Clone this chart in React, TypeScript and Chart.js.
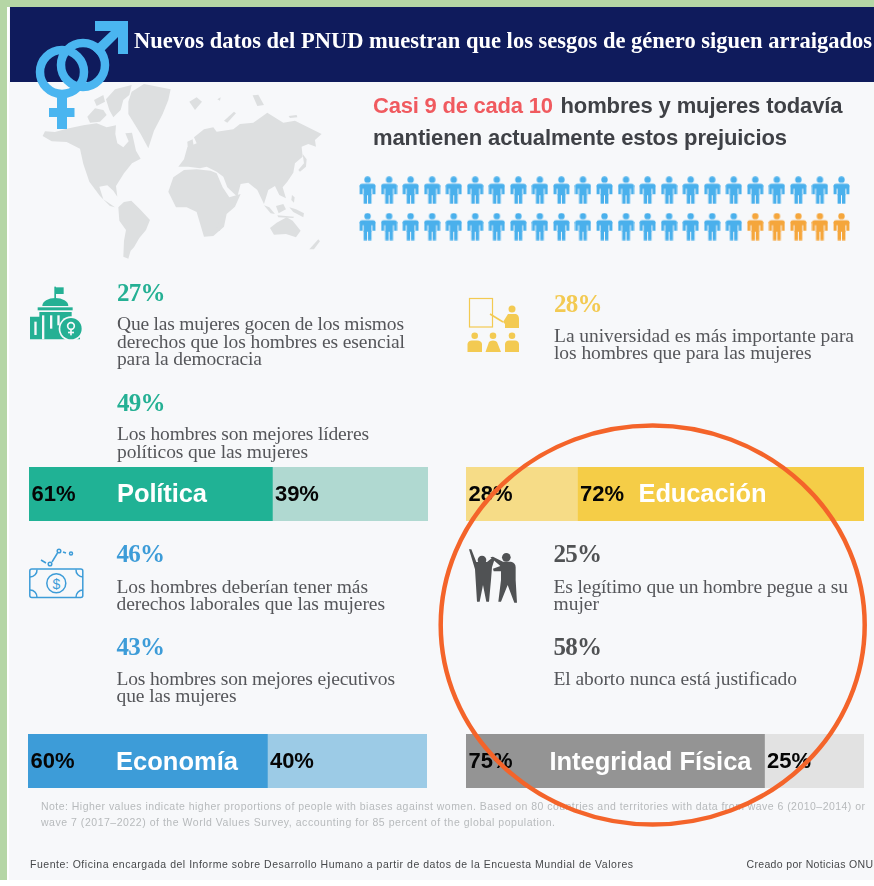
import React, { useEffect, useRef } from "react";
import { Chart, registerables } from "chart.js";

Chart.register(...registerables);

const barCategories = ["Política", "Educación", "Economía", "Integridad Física"];
const leftShares = [61, 28, 60, 75];
const rightShares = [39, 72, 40, 25];
const leftColors = ["#20b295", "#f6dc87", "#3d9cd8", "#949494"];
const rightColors = ["#b0d9d1", "#f5cd47", "#9ccbe6", "#e2e2e2"];

const peopleTopRow = { blue: 23, orange: 0 };
const peopleBottomRow = { blue: 18, orange: 5 };

const SANS = '"Liberation Sans", Arial, sans-serif';
const SERIF = '"Liberation Serif", serif';

function makePerson(color: string) {
  const c = document.createElement("canvas");
  c.width = 17;
  c.height = 28;
  const g = c.getContext("2d")!;
  g.fillStyle = color;
  g.beginPath();
  g.arc(8.5, 3.4, 3.2, 0, Math.PI * 2);
  g.fill();
  g.beginPath();
  g.roundRect(0.6, 7.4, 15.8, 5, 2.4);
  g.fill();
  g.fillRect(0.6, 9, 3, 9);
  g.fillRect(13.4, 9, 3, 9);
  g.fillRect(4.6, 8, 7.8, 11);
  g.fillRect(4.6, 18, 3.4, 9.6);
  g.fillRect(9, 18, 3.4, 9.6);
  return c;
}

const shareLabels = {
  id: "shareLabels",
  afterDatasetsDraw(chart: any) {
    const ctx = chart.ctx;
    ctx.save();
    ctx.font = `bold 22px ${SANS}`;
    ctx.fillStyle = "#050505";
    ctx.textBaseline = "alphabetic";
    chart.data.datasets.forEach((ds: any, i: number) => {
      const bar = chart.getDatasetMeta(i).data[0] as any;
      ctx.fillText(`${ds.data[0]}%`, bar.base + 2.5, 34);
    });
    ctx.restore();
  },
};

function ShareBar({ index, left, top, width }: { index: number; left: number; top: number; width: number }) {
  const ref = useRef<HTMLCanvasElement>(null);
  useEffect(() => {
    const chart = new Chart(ref.current!, {
      type: "bar",
      data: {
        labels: [barCategories[index]],
        datasets: [
          { data: [leftShares[index]], backgroundColor: leftColors[index], borderWidth: 0, barPercentage: 1, categoryPercentage: 1 },
          { data: [rightShares[index]], backgroundColor: rightColors[index], borderWidth: 0, barPercentage: 1, categoryPercentage: 1 },
        ],
      },
      options: {
        indexAxis: "y",
        responsive: false,
        maintainAspectRatio: false,
        animation: false,
        layout: { padding: 0, autoPadding: false },
        plugins: { legend: { display: false }, tooltip: { enabled: false } },
        scales: {
          x: { display: false, stacked: true, min: 0, max: 100 },
          y: { display: false, stacked: true },
        },
      },
      plugins: [shareLabels],
    } as any);
    return () => chart.destroy();
  }, [index]);
  return <canvas ref={ref} width={width} height={54} style={{ position: "absolute", left, top, width, height: 54, display: "block" }} />;
}

function People() {
  const ref = useRef<HTMLCanvasElement>(null);
  useEffect(() => {
    const blue: { x: number; y: number }[] = [];
    const orange: { x: number; y: number }[] = [];
    [peopleTopRow, peopleBottomRow].forEach((row, r) => {
      for (let k = 1; k <= row.blue + row.orange; k++) {
        (k <= row.blue ? blue : orange).push({ x: k, y: 2 - r });
      }
    });
    const chart = new Chart(ref.current!, {
      type: "scatter",
      data: {
        datasets: [
          { data: blue, pointStyle: makePerson("#4ab0ec"), pointRadius: 10, clip: false },
          { data: orange, pointStyle: makePerson("#f5a63c"), pointRadius: 10, clip: false },
        ],
      },
      options: {
        responsive: false,
        maintainAspectRatio: false,
        animation: false,
        layout: { padding: 0, autoPadding: false },
        plugins: { legend: { display: false }, tooltip: { enabled: false } },
        scales: {
          x: { display: false, min: 0, max: 24 },
          y: { display: false, min: 0.5, max: 2.5 },
        },
      },
    } as any);
    return () => chart.destroy();
  }, []);
  return <canvas ref={ref} width={517} height={73} style={{ position: "absolute", left: 346, top: 172, width: 517, height: 73, display: "block" }} />;
}

function T({ x, y, len, size, color, family = SERIF, weight = "normal", children, anchor }: any) {
  return (
    <text x={x} y={y} fontFamily={family} fontSize={size} fontWeight={weight} fill={color} textLength={len} lengthAdjust="spacing" textAnchor={anchor} xmlSpace="preserve">
      {children}
    </text>
  );
}

const GREEN = "#25b094";
const YELLOW = "#f3ca52";
const BLUE = "#3d9cd8";
const DARK = "#505254";
const BODY = "#55565a";
const PANEL = "#f7f8fa";

function Stat({ x, y, value, color }: any) {
  return <T x={x} y={y} len={48.5} size={25} color={color} weight="bold">{value}</T>;
}
// One paragraph: [baseline y, right edge, words] for each line
function Para({ x, lines }: { x: number; lines: [number, number, string][] }) {
  return (
    <text fontFamily={SERIF} fontSize={19.5} fill={BODY} xmlSpace="preserve">
      {lines.map(([y, end, words], i) => (
        <tspan key={i} x={x} y={y} textLength={end - x} lengthAdjust="spacing">{words}</tspan>
      ))}
    </text>
  );
}

const MAP_SHAPES = [
  "M128 408 L135 394 L165 396 L200 386 L250 376 L290 370 L320 382 L348 376 L346 402 L352 430 L370 442 L386 424 L376 400 L396 398 L408 452 L422 476 L396 490 L372 520 L348 558 L352 590 L340 572 L322 556 L298 560 L310 598 L345 622 L330 618 L300 588 L268 545 L250 492 L240 446 L200 426 L155 424 Z",
  "M262 350 L285 325 L310 330 L320 345 L300 365 L270 368 Z",
  "M318 298 L345 268 L395 255 L388 285 L370 300 L362 330 L340 352 L328 330 Z",
  "M282 300 L310 285 L315 305 L290 318 Z",
  "M385 305 L395 275 L432 252 L512 268 L505 300 L488 342 L462 392 L445 445 L422 402 L385 342 Z",
  "M355 622 L372 606 L394 602 L420 628 L450 660 L438 690 L418 714 L402 742 L392 752 L385 776 L370 770 L372 722 L378 690 L358 662 Z",
  "M505 575 L520 532 L552 510 L590 508 L632 512 L650 520 L668 562 L688 592 L722 582 L705 620 L680 642 L672 680 L640 708 L612 710 L600 670 L590 636 L560 622 L528 622 Z",
  "M535 500 L552 478 L562 442 L590 430 L582 412 L612 388 L640 382 L650 395 L700 388 L720 372 L760 368 L802 338 L850 368 L885 362 L965 402 L945 420 L948 440 L925 432 L905 440 L908 470 L885 490 L880 518 L862 545 L848 562 L858 595 L838 585 L825 558 L805 570 L792 612 L772 570 L745 548 L722 552 L712 590 L682 562 L670 530 L650 515 L620 500 L600 505 L565 500 Z",
  "M810 684 L830 668 L860 652 L878 662 L902 692 L888 712 L858 702 L822 704 Z",
  "M792 616 L808 622 L825 642 L812 640 Z",
  "M828 618 L850 612 L858 628 L836 640 Z",
  "M832 646 L882 650 L880 654 L835 652 Z",
  "M868 622 L888 628 L912 640 L910 652 L880 636 Z",
  "M876 585 L884 592 L882 608 L874 600 Z",
  "M908 462 L920 478 L918 500 L900 515 L895 510 L912 490 Z",
  "M568 305 L590 292 L606 305 L585 330 Z",
  "M758 286 L775 284 L792 315 L772 318 Z",
  "M652 298 L662 292 L660 302 Z",
  "M562 425 L578 418 L582 445 L564 452 Z",
  "M672 362 L702 335 L708 340 L682 368 Z",
  "M660 650 L668 648 L660 692 L648 694 Z",
  "M928 748 L955 718 L960 724 L942 748 Z",
  "M866 348 L890 345 L892 352 L870 354 Z",
];

export default function App() {
  return (
    <div style={{ position: "absolute", left: 0, top: 0, width: 874, height: 886, overflow: "hidden", background: "#ffffff" }}>
      <svg width={874} height={886} style={{ position: "absolute", left: 0, top: 0 }}>
        <rect x={0} y={0} width={874} height={7} fill="#b5d6a5" />
        <rect x={0} y={0} width={7} height={880} fill="#b5d6a5" />
        <rect x={9} y={7} width={865} height={873} fill={PANEL} />
        <g transform="scale(0.3333)" fill="#dddfe0">
          {MAP_SHAPES.map((d, i) => <path key={i} d={d} />)}
        </g>
        <rect x={10} y={7} width={864} height={75} fill="#0f1b5c" />
        <g fill="none" stroke="#4ab5f0" strokeWidth={8.5}>
          <circle cx={62} cy={72} r={22} />
          <circle cx={83} cy={65} r={22} />
        </g>
        <path d="M57 96 H67 V108 H74.500 V117 H67 V129 H57 V117 H49 V108 H57 Z" fill="#4ab5f0" />
        <path d="M95 21 H128 V54 H118 V37 L99 56 L92 49 L111 31 H95 Z" fill="#4ab5f0" />

        <g transform="translate(0 270) scale(0.3333)">
          <g fill={GREEN}>
            <rect x={163} y={50} width={5} height={36} />
            <rect x={168} y={52} width={23} height={20} />
            <path d="M127 108 A39 24 0 0 1 205 108 Z" />
            <rect x={113} y={112} width={105} height={9} />
            <path d="M90 140 H118 V126 H215 V150 H240 V208 H90 Z" />
          </g>
          <g fill={PANEL}>
            <rect x={103} y={155} width={7} height={40} />
            <rect x={126} y={136} width={7} height={72} />
            <rect x={150} y={136} width={7} height={40} />
            <rect x={172} y={136} width={7} height={30} />
            <circle cx={213} cy={176} r={37} />
          </g>
          <circle cx={213} cy={176} r={32} fill={GREEN} />
          <circle cx={213} cy={168} r={10} fill="none" stroke={PANEL} strokeWidth={5} />
          <rect x={210.500} y={178} width={5} height={18} fill={PANEL} />
          <rect x={204} y={185} width={18} height={5} fill={PANEL} />
        </g>

        <rect x={469.500} y={298.500} width={23} height={28.500} fill="none" stroke={YELLOW} strokeWidth={1.200} />
        <path d="M490 314 L503 322" stroke={YELLOW} strokeWidth={1.500} />
        <g fill={YELLOW}>
          <circle cx={512} cy={309} r={3.500} />
          <path d="M503 322 L508 314 H516 Q519 315 519 319 V328 H505 V324 Z" />
          <circle cx={474.700} cy={335.700} r={3.300} />
          <circle cx={493} cy={335.700} r={3.300} />
          <circle cx={512} cy={335.700} r={3.300} />
          <path d="M467.500 352 V344 Q468 340.500 472 340.500 H477 Q481.500 340.500 482 344 V352 Z" />
          <path d="M485.500 352 L489 342 Q490 340.500 493 340.500 Q496 340.500 497 342 L501 352 Z" />
          <path d="M505 352 V344 Q505.500 340.500 509 340.500 H515 Q518.500 340.500 519 344 V352 Z" />
        </g>

        <g fill="none" stroke={BLUE} strokeWidth={1.500}>
          <rect x={29.800} y={569} width={53} height={28.500} rx={2} />
          <path d="M30 577 A7 7 0 0 0 37 569.500 M83 577 A7 7 0 0 1 76 569.500 M30 590 A7 7 0 0 1 37 597.500 M83 590 A7 7 0 0 0 76 597.500" />
          <circle cx={56.300} cy={583.300} r={9.500} />
          <path d="M41 560 L46 563 M52 562 L57.500 553" />
          <circle cx={50} cy={564} r={1.800} />
          <circle cx={59} cy={551} r={1.800} />
          <path d="M63 552 L66 553" />
          <circle cx={71} cy={553.500} r={1.500} />
        </g>
        <text x={56.300} y={588.500} textAnchor="middle" fontFamily={SANS} fontSize={14} fill={BLUE}>$</text>

        <g transform="translate(437 530) scale(0.3333)" fill={DARK}>
          <circle cx={135} cy={90} r={13} />
          <circle cx={208} cy={82} r={13} />
          <path d="M96 58 L103 58 L118 96 L150 96 L165 84 L172 90 L165 112 L162 150 L156 215 L148 215 L138 165 L128 215 L120 215 L116 150 L114 118 Z" />
          <path d="M160 82 L168 80 L198 95 L222 95 Q236 98 236 112 V150 L240 218 L232 218 L212 165 L192 215 L184 215 L192 150 V124 L170 124 L168 116 L190 108 Z" />
        </g>
      </svg>

      <People />
      <ShareBar index={0} left={29} top={467} width={399} />
      <ShareBar index={1} left={466} top={467} width={398} />
      <ShareBar index={2} left={28} top={734} width={399} />
      <ShareBar index={3} left={466} top={734} width={398} />

      <svg width={874} height={886} style={{ position: "absolute", left: 0, top: 0 }}>
        <T x={134} y={48} len={738} size={22.500} color="#ffffff" weight="bold">Nuevos datos del PNUD muestran que los sesgos de género siguen arraigados</T>

        <T x={373} y={112.500} len={180} size={22} color="#f05a5f" family={SANS} weight="bold">Casi 9 de cada 10</T>
        <T x={560.500} y={112.500} len={282} size={22} color="#3f4146" family={SANS} weight="bold">hombres y mujeres todavía</T>
        <T x={373} y={145} len={414} size={22} color="#3f4146" family={SANS} weight="bold">mantienen actualmente estos prejuicios</T>

        <Stat x={117} y={301} value="27%" color={GREEN} />
        <Para x={117} lines={[[330, 404, "Que las mujeres gocen de los mismos"], [347.5, 405, "derechos que los hombres es esencial"], [365, 262, "para la democracia"]]} />
        <Stat x={117} y={411} value="49%" color={GREEN} />
        <Para x={117} lines={[[440, 369, "Los hombres son mejores líderes"], [458, 308, "políticos que las mujeres"]]} />

        <Stat x={554} y={312} value="28%" color={YELLOW} />
        <Para x={554} lines={[[342, 854, "La universidad es más importante para"], [359, 811.5, "los hombres que para las mujeres"]]} />

        <Stat x={116.500} y={562} value="46%" color={BLUE} />
        <Para x={116.5} lines={[[592.5, 368, "Los hombres deberían tener más"], [609.5, 385, "derechos laborales que las mujeres"]]} />
        <Stat x={116.500} y={655} value="43%" color={BLUE} />
        <Para x={116.5} lines={[[684.5, 395, "Los hombres son mejores ejecutivos"], [702, 236.5, "que las mujeres"]]} />

        <Stat x={553.500} y={562} value="25%" color={DARK} />
        <Para x={553.5} lines={[[592.5, 848, "Es legítimo que un hombre pegue a su"], [609.5, 599, "mujer"]]} />
        <Stat x={553.500} y={655} value="58%" color={DARK} />
        <Para x={553.5} lines={[[684.5, 797, "El aborto nunca está justificado"]]} />

        <T x={117} y={502} len={90} size={25.500} color="#ffffff" family={SANS} weight="bold">{barCategories[0]}</T>
        <T x={638.500} y={502} len={128} size={25.500} color="#ffffff" family={SANS} weight="bold">{barCategories[1]}</T>
        <T x={116} y={770} len={122} size={25.500} color="#ffffff" family={SANS} weight="bold">{barCategories[2]}</T>
        <T x={549.500} y={770} len={202} size={25.500} color="#ffffff" family={SANS} weight="bold">{barCategories[3]}</T>

        <T x={41} y={810} len={824} size={10.500} color="#b7babc" family={SANS}>Note: Higher values indicate higher proportions of people with biases against women. Based on 80 countries and territories with data from wave 6 (2010–2014) or</T>
        <T x={41} y={826} len={514} size={10.500} color="#b7babc" family={SANS}>wave 7 (2017–2022) of the World Values Survey, accounting for 85 percent of the global population.</T>
        <T x={30} y={868} len={603} size={10.500} color="#46484a" family={SANS}>Fuente: Oficina encargada del Informe sobre Desarrollo Humano a partir de datos de la Encuesta Mundial de Valores</T>
        <T x={746.500} y={868} len={126.500} size={10.500} color="#46484a" family={SANS}>Creado por Noticias ONU</T>

        <ellipse cx={652.700} cy={625} rx={212} ry={199.500} fill="none" stroke="#f4642a" strokeWidth={4.500} />
      </svg>
    </div>
  );
}
